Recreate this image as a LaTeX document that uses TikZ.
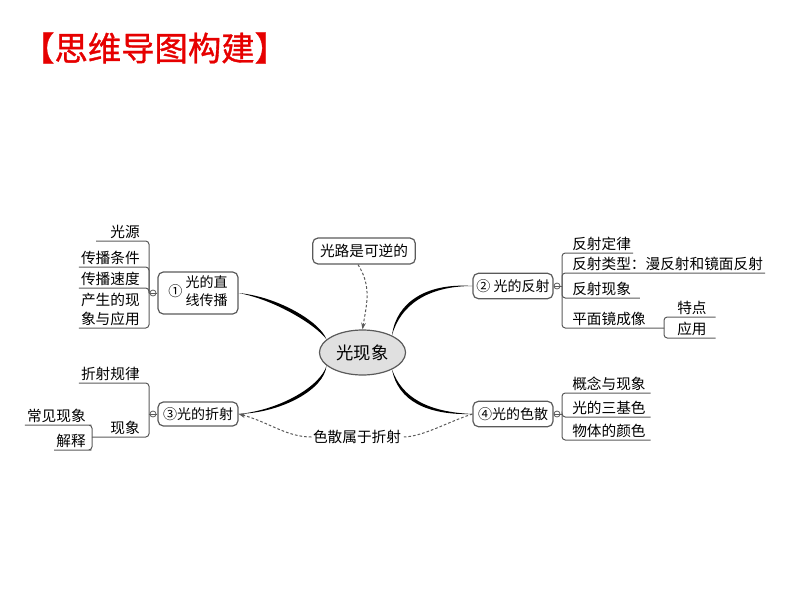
\documentclass[tikz,border=0pt]{standalone}
\usepackage{fontspec}
\setmainfont{Noto Sans CJK SC}
\newfontfamily\titlefont[FakeBold=1]{Noto Sans CJK SC}
\usepackage{tikz}
\usetikzlibrary{shapes.geometric,arrows.meta}
\definecolor{titlered}{RGB}{230,0,0}
\definecolor{linegray}{RGB}{90,90,90}
\newcommand{\leaffont}{\fontsize{11}{14}\selectfont}
\newcommand{\boxfont}{\fontsize{10.5}{13.5}\selectfont}
\tikzset{
  topic/.style={draw=linegray, line width=0.9pt, rounded corners=4pt, font=\boxfont, inner sep=2pt, minimum width=60pt, minimum height=19pt},
  leaf/.style={inner xsep=1.5pt, inner ysep=1.5pt, font=\leaffont},
  leafr/.style={leaf, anchor=south west},
  leafl/.style={leaf, anchor=south east, align=right},
  fold/.style={circle, draw=linegray, fill=white, line width=0.6pt, inner sep=0pt, minimum size=4.5pt,
    path picture={\draw[linegray, line width=0.5pt] (path picture bounding box.west) -- (path picture bounding box.east);}},
  twig/.style={draw=linegray, line width=0.75pt, rounded corners=2.5pt},
  branch/.style={fill=black},
  hint/.style={draw=linegray, line width=0.75pt, dash pattern=on 2pt off 1.5pt},
}
\begin{document}
\begin{tikzpicture}[x=0.75pt,y=0.75pt,yscale=-1,xscale=1]
\useasboundingbox (0,0) rectangle (800,600);

% Title
\node[anchor=west, text=titlered, font=\titlefont\fontsize{25}{29}\selectfont, inner sep=0pt] (title) at (21,48) {【思维导图构建】};

% Centre and main topics
\node[ellipse, draw=linegray, fill=black!12, line width=0.9pt, minimum width=64pt, minimum height=33.75pt, font=\fontsize{13}{15}\selectfont] (root) at (362.5,352.5) {光现象};
\node[topic, minimum height=31.5pt] (zhi) at (198,293) {① \begin{tabular}{@{}c@{}}光的直\\线传播\end{tabular}};
\node[topic] (fan) at (513,286) {② 光的反射};
\node[topic, minimum height=18pt] (zhe) at (198,414) {③光的折射};
\node[topic] (se) at (513,414) {④光的色散};
\node[topic, font=\leaffont, minimum width=77pt, minimum height=19.5pt] (ni) at (364,251) {光路是可逆的};
\node[font=\leaffont, inner sep=1pt] (sx) at (357,437) {色散属于折射};

% Fold markers
\node[fold] (m1) at (153,293) {};
\node[fold] (m2) at (557,286) {};
\node[fold] (m3) at (153,414) {};
\node[fold] (m4) at (557,414) {};
\coordinate (b1) at (149,293);
\coordinate (b2) at (562,286);
\coordinate (b3) at (149,414);
\coordinate (b4) at (562,414);
\coordinate (s2) at (664,328);
\coordinate (s3) at (92,437);

%Curve Lines (tapered branches)
\fill[branch] (root.160) .. controls +(-10,-14) and +(37,7) .. (zhi.east) .. controls +(39,3.7) and +(-6.7,-17.9) .. (root.160) -- cycle;
\fill[branch] (root.200) .. controls +(-5.5,20) and +(42,-4) .. (zhe.east) .. controls +(43.3,-1.4) and +(-2.2,23.9) .. (root.200) -- cycle;
\fill[branch] (root.30) .. controls +(8,-30) and +(-45,0) .. (fan.west) .. controls +(-45.6,-3.3) and +(4.1,-33.3) .. (root.30) -- cycle;
\fill[branch] (root.-30) .. controls +(10,28) and +(-45,-2) .. (se.west) .. controls +(-45.6,1.3) and +(6.1,31.3) .. (root.-30) -- cycle;

%Dashed hints
\draw[hint, -{Stealth[length=5pt,width=3.5pt]}] ([xshift=-4.5pt]ni.south) .. controls +(14,22) and +(4,-25) .. (root.north);
\draw[hint] (se.west) .. controls +(-25,8) and +(20,0) .. (sx.east);
\draw[hint, -{Stealth[length=5pt,width=3.5pt]}] (sx.west) .. controls +(-25,0) and +(30,8) .. (zhe.east);

% Leaves of (1)
\node[leafl, text width=31pt] (ly) at (142,241) {光源};
\node[leafl] (tj) at (142,267) {传播条件};
\node[leafl] (sd) at (142,288) {传播速度};
\node[leafl] (yy) at (142,328) {产生的现\\象与应用};
\draw[twig] (zhi) -- (m1) -- (b1);
\foreach \n in {ly,tj,sd,yy}
  \draw[twig] (b1) |- (\n.south east) -- (\n.south west);

% Leaves of (2)
\node[leafr] (dl) at (570,253) {反射定律};
\node[leafr] (lx) at (570,273) {反射类型：漫反射和镜面反射};
\node[leafr, text width=49pt, align=left] (xx) at (570,298) {反射现象};
\node[leafr] (pm) at (570,328) {平面镜成像};
\node[leafr, text width=27pt, align=left] (td) at (675,317) {特点};
\node[leafr, text width=27pt, align=left] (yyb) at (675,338) {应用};
\draw[twig] (fan) -- (m2) -- (b2);
\foreach \n in {dl,lx,xx}
  \draw[twig] (b2) |- (\n.south west) -- (\n.south east);
\draw[twig] (b2) |- (pm.south west) -- (pm.south east) -- (s2);
\foreach \n in {td,yyb}
  \draw[twig] (s2) |- (\n.south west) -- (\n.south east);

% Leaves of (3)
\node[leafl] (gl) at (142,383) {折射规律};
\node[leafl] (xz) at (142,437) {现象};
\node[leafl] (cj) at (88,425) {常见现象};
\node[leafl] (js) at (88,450) {解释};
\draw[twig] (zhe) -- (m3) -- (b3);
\draw[twig] (b3) |- (gl.south east) -- (gl.south west);
\draw[twig] (b3) |- (xz.south east) -- (xz.south west) -- (s3);
\foreach \n in {cj,js}
  \draw[twig] (s3) |- (\n.south east) -- (\n.south west);

% Leaves of (4)
\node[leafr, text width=57pt, align=left] (gn) at (570,393) {概念与现象};
\node[leafr, text width=57pt, align=left] (sj) at (570,417) {光的三基色};
\node[leafr, text width=57pt, align=left] (ys) at (570,440) {物体的颜色};
\draw[twig] (se) -- (m4) -- (b4);
\foreach \n in {gn,sj,ys}
  \draw[twig] (b4) |- (\n.south west) -- (\n.south east);

\end{tikzpicture}
\end{document}
